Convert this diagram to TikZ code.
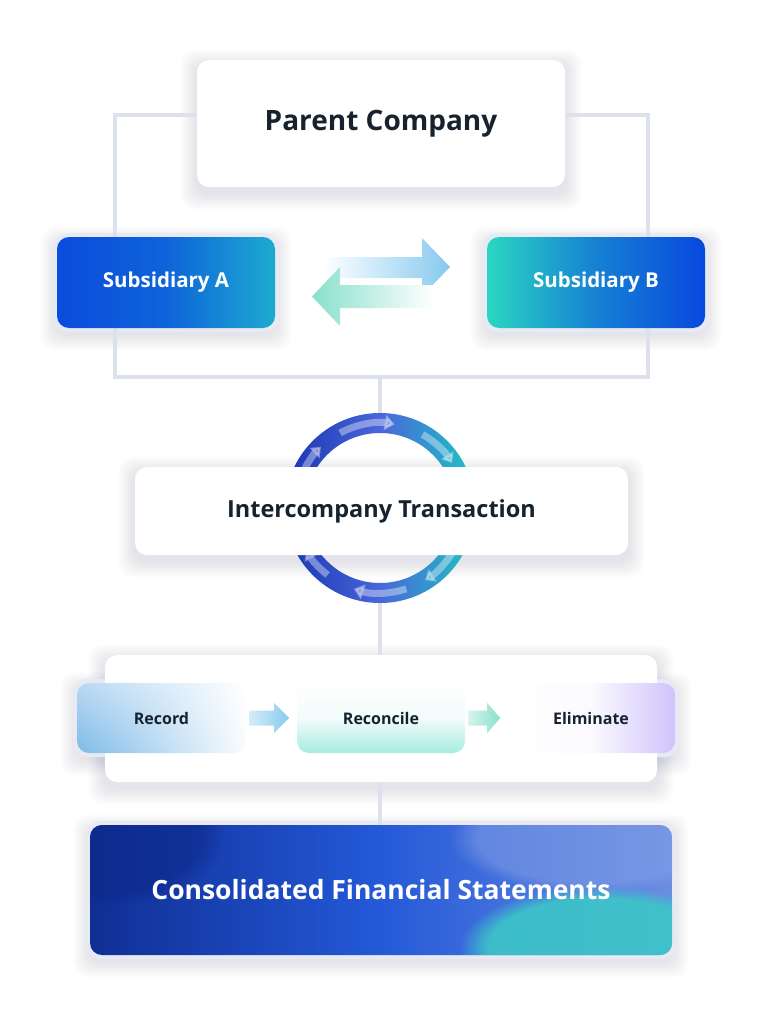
\documentclass[tikz,border=0pt]{standalone}
\usepackage{fontspec}
\setmainfont{Open Sans}
\usetikzlibrary{fadings,shadings,arrows.meta,calc}
\definecolor{ink}{HTML}{16232F}
\definecolor{conn}{HTML}{DDE1EC}
\definecolor{halo}{HTML}{E7EAF2}
\definecolor{blueA}{HTML}{0A4CDD}
\definecolor{cyanA}{HTML}{1CAAD0}
\definecolor{tealB}{HTML}{2AD6C2}
\definecolor{blueB}{HTML}{0848DF}
\definecolor{ringL}{HTML}{1836B2}
\definecolor{ringM}{HTML}{4A66DA}
\definecolor{ringR}{HTML}{1EC4C2}
\definecolor{navy}{HTML}{0C2788}
\definecolor{midblue}{HTML}{2459D8}
\definecolor{liteblue}{HTML}{6C8EE2}
\definecolor{tealC}{HTML}{3CC6C8}
\definecolor{arrB}{HTML}{86CAEE}
\definecolor{arrT}{HTML}{88E0CC}
\definecolor{mint}{HTML}{A6ECE0}
\definecolor{lav}{HTML}{CFC3FB}
\definecolor{recL}{HTML}{7DBAE8}
\definecolor{recU}{HTML}{B8D9F3}
\pgfdeclarelayer{paper}
\pgfdeclarelayer{shadow}
\pgfdeclarelayer{lines}
\pgfsetlayers{paper,shadow,lines,main}
\tikzset{
  card/.style={rounded corners=12pt, inner sep=0pt, font=\bfseries, text=ink},
  whitecard/.style={card, fill=white},
  connline/.style={draw=conn, line width=4pt},
}
\begin{document}
\begin{tikzpicture}[x=1pt,y=-1pt]
\useasboundingbox (0,0) rectangle (762,1024);
\begin{pgfonlayer}{paper}
\fill[white] (0,0) rectangle (762,1024);
\end{pgfonlayer}

% ---------- nodes ----------
\node[whitecard, minimum width=368pt, minimum height=127pt, font=\fontsize{28}{32}\selectfont\bfseries] (parent) at (381,123.5) {Parent Company};

\node[card, shade, left color=blueA, right color=cyanA, middle color=blueA!75!cyanA, minimum width=218pt, minimum height=91pt, text=white, font=\fontsize{20.5}{24}\selectfont\bfseries] (subA) at (166,282.5) {Subsidiary A};
\node[card, shade, left color=tealB, right color=blueB, middle color=tealB!40!blueB, minimum width=218pt, minimum height=91pt, text=white, font=\fontsize{20.5}{24}\selectfont\bfseries] (subB) at (596,282.5) {Subsidiary B};

% double arrows
\shade[left color=white, right color=arrB] (323,257) -- (422,257) -- (422,238) -- (450,267) -- (422,296) -- (422,278) -- (323,278) -- cycle;
\shade[left color=arrT, right color=white] (433,285) -- (340,285) -- (340,267) -- (312,296.5) -- (340,326) -- (340,308) -- (433,308) -- cycle;

% ring
\coordinate (rc) at (380,508);
\coordinate (ringtop) at (380,413);
\coordinate (ringbot) at (380,603);
\shade[left color=ringL, right color=ringR, middle color=ringM, even odd rule] (rc) circle[radius=95pt] (rc) circle[radius=75pt];
\begin{scope}[white, opacity=0.38, line width=7pt]
  \draw[-{Triangle[length=10pt,width=15pt]}] ($(rc)+(118:85pt)$) arc[start angle=118, end angle=80, radius=85pt];
  \draw[-{Triangle[length=9pt,width=14pt]}] ($(rc)+(152:85pt)$) arc[start angle=152, end angle=134, radius=85pt];
  \draw[-{Triangle[length=9pt,width=14pt]}] ($(rc)+(60:85pt)$) arc[start angle=60, end angle=32, radius=85pt];
  \draw[-{Triangle[length=9pt,width=14pt]}] ($(rc)+(-32:85pt)$) arc[start angle=-32, end angle=-58, radius=85pt];
  \draw[-{Triangle[length=10pt,width=15pt]}] ($(rc)+(-72:85pt)$) arc[start angle=-72, end angle=-108, radius=85pt];
  \draw[-{Triangle[length=9pt,width=14pt]}] ($(rc)+(-128:85pt)$) arc[start angle=-128, end angle=-150, radius=85pt];
\end{scope}

\node[whitecard, minimum width=493pt, minimum height=88pt, font=\fontsize{23.5}{27}\selectfont\bfseries] (inter) at (381.5,511) {Intercompany Transaction};

% process panel
\node[whitecard, minimum width=552pt, minimum height=127pt] (panel) at (381,718.5) {};
\shade[rounded corners=12pt, upper left=recU, lower left=recL, upper right=white, lower right=white!92!recU] (77,683) rectangle (246,753);
\node[card, minimum width=169pt, minimum height=70pt, font=\fontsize{16}{19}\selectfont\bfseries] (record) at (161.5,718) {Record};
\node[card, shade, top color=white, bottom color=mint, middle color=white!85!mint, minimum width=168pt, minimum height=70pt, font=\fontsize{16}{19}\selectfont\bfseries] (reconcile) at (381,718) {Reconcile};
\node[card, shade, left color=white, right color=lav, middle color=white!92!lav, minimum width=168pt, minimum height=70pt, font=\fontsize{16}{19}\selectfont\bfseries] (eliminate) at (591,718) {Eliminate};

\shade[left color=arrB!35, right color=arrB] ($(record.east)+(3,-7.5)$) -- ++(25,0) -- ++(0,-7.5) -- ++(15,15) -- ++(-15,15) -- ++(0,-7.5) -- ++(-25,0) -- cycle;
\shade[left color=arrT!35, right color=arrT] ($(reconcile.east)+(3,-7.5)$) -- ++(19,0) -- ++(0,-7.5) -- ++(13,15) -- ++(-13,15) -- ++(0,-7.5) -- ++(-19,0) -- cycle;

% consolidated
\begin{scope}
  \clip[rounded corners=12pt] (90,825) rectangle (672,955);
  \shade[left color=navy!85!midblue, right color=liteblue, middle color=midblue] (90,825) rectangle (672,955);
  \fill[navy, opacity=0.55, path fading=circle with fuzzy edge 20 percent] (105,832) ellipse[x radius=120pt, y radius=75pt];
  \fill[liteblue!85!white, opacity=0.55, path fading=circle with fuzzy edge 20 percent] (590,838) ellipse[x radius=140pt, y radius=55pt];
  \fill[tealC, opacity=0.9, path fading=circle with fuzzy edge 20 percent] (600,948) ellipse[x radius=140pt, y radius=62pt];
\end{scope}
\node[card, minimum width=582pt, minimum height=130pt, text=white, font=\fontsize{26.5}{30}\selectfont\bfseries] (consol) at (381,890) {Consolidated Financial Statements};

% ---------- shadows ----------
\begin{pgfonlayer}{shadow}
  \foreach \n in {parent,subA,subB,inter,panel,record,reconcile,eliminate,consol} {
    \foreach \k in {1,...,9} {
      \fill[black!70!blue, opacity=0.012, rounded corners=14pt]
        ([shift={(-\k*1.8,-\k*1.8+6)}]\n.north west) rectangle ([shift={(\k*1.8,\k*1.8+6)}]\n.south east);
    }
  }
  \foreach \n in {subA,subB,consol,record,reconcile,eliminate} {
    \fill[halo, rounded corners=15pt] ([shift={(-4,-4)}]\n.north west) rectangle ([shift={(4,4)}]\n.south east);
  }
\end{pgfonlayer}

% ---------- connectors ----------
\coordinate (tl) at (115,115);
\coordinate (tr) at (648,115);
\coordinate (bl) at (115,377);
\coordinate (br) at (648,377);
\coordinate (bm) at (380,377);
\begin{pgfonlayer}{lines}
  \draw[connline] (parent.west |- tl) -- (tl) -- (tl |- subA.north);
  \draw[connline] (parent.east |- tr) -- (tr) -- (tr |- subB.north);
  \draw[connline] (tl |- subA.south) -- (bl) -- (br) -- (tr |- subB.south);
  \draw[connline] (bm) -- (ringtop);
  \draw[connline] (ringbot) -- (bm |- panel.north);
  \draw[connline] (bm |- panel.south) -- (bm |- consol.north);
\end{pgfonlayer}
\end{tikzpicture}
\end{document}
